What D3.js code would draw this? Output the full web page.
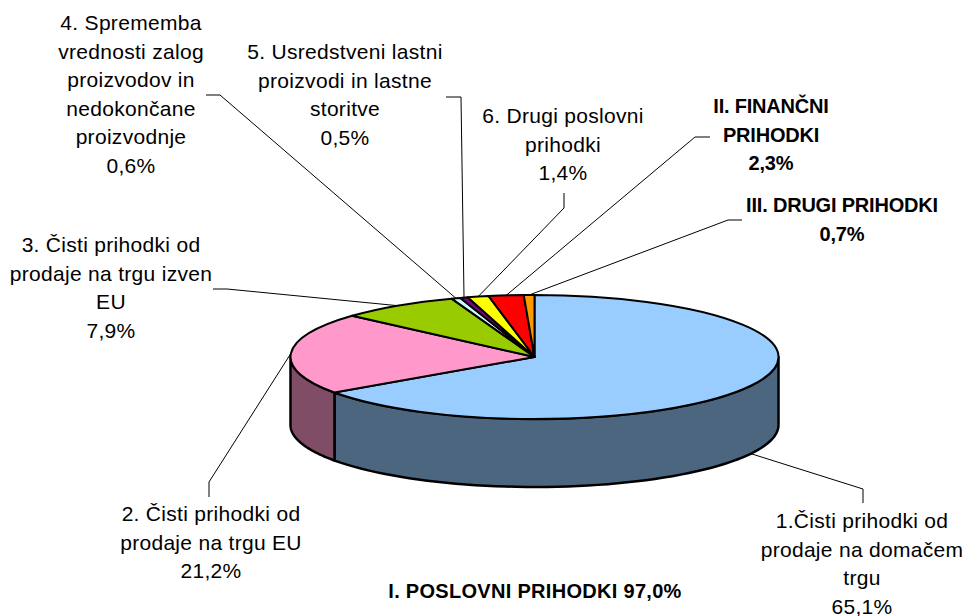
<!DOCTYPE html>
<html>
<head>
<meta charset="utf-8">
<script src="https://cdn.jsdelivr.net/npm/d3@7"></script>
<style>
  html, body { margin: 0; padding: 0; background: #fff; }
  svg { display: block; }
  text { font-family: "Liberation Sans", Arial, sans-serif; font-size: 21px; letter-spacing: 0.3px; fill: #000; text-anchor: middle; }
  text.bold { font-weight: bold; font-size: 20px; letter-spacing: -0.2px; }
  text.title { font-weight: bold; font-size: 20px; letter-spacing: 0.3px; }
</style>
</head>
<body>
<svg id="pie" width="967" height="616"></svg>
<script>
var categories = [
  "1.Čisti prihodki od|prodaje na domačem|trgu",
  "2. Čisti prihodki od|prodaje na trgu EU",
  "3. Čisti prihodki od|prodaje na trgu izven|EU",
  "4. Sprememba|vrednosti zalog|proizvodov in|nedokončane|proizvodnje",
  "5. Usredstveni lastni|proizvodi in lastne|storitve",
  "6. Drugi poslovni|prihodki",
  "II. FINANČNI|PRIHODKI",
  "III. DRUGI PRIHODKI"
];
var values = [65.1, 21.2, 7.9, 0.6, 0.5, 1.4, 2.3, 0.7];
var valueLabels = ["65,1%", "21,2%", "7,9%", "0,6%", "0,5%", "1,4%", "2,3%", "0,7%"];
var boldSlices = [false, false, false, false, false, false, true, true];
var topColors = ["#99ccff", "#ff99cc", "#99cc00", "#ccffff", "#800080", "#ffff00", "#ff0000", "#ff9900"];
var wallColors = ["#4d6680", "#804d66"];
var groupTitle = "I. POSLOVNI PRIHODKI 97,0%";

// label layout: text centre, first baseline, then the leader elbow and its stub end
var labelX = [862, 211, 111, 131, 345, 563, 771, 842];
var labelY = [528, 521, 252, 30, 59, 123, 113, 212];
var elbows = [[863, 489], [209, 482], [227, 289], [220, 95], [461, 97], [564, 208], [695, 137], [728, 220]];
var stubs = [[863, 503], [209, 497], [213, 289], [206, 95], [446, 97], [564, 193], [710, 137], [742, 220]];

var cx = 534.5, cy = 357, rx = 244, ry = 62, depth = 68, lineHeight = 28.5;

var svg = d3.select("svg#pie");

var pie = d3.pie().sort(null).value(d => d);
var slices = pie(values);

// angle 0 is 12 o'clock, going clockwise
function onEllipse(a) {
  return [cx + rx * Math.sin(a), cy - ry * Math.cos(a)];
}

// back-to-front: the wall is only seen between 3 and 9 o'clock
var wallArea = d3.area()
  .x(a => onEllipse(a)[0])
  .y0(a => onEllipse(a)[1])
  .y1(a => onEllipse(a)[1] + depth);

svg.append("g").selectAll("path")
  .data(slices.slice(0, 2))
  .enter().append("path")
  .attr("d", d => {
    var a0 = Math.max(d.startAngle, Math.PI / 2), a1 = Math.min(d.endAngle, 3 * Math.PI / 2);
    return wallArea(d3.range(0, 61).map(i => a0 + (a1 - a0) * i / 60));
  })
  .attr("fill", (d, i) => wallColors[i])
  .attr("stroke", "#000")
  .attr("stroke-width", 2.5)
  .attr("stroke-linejoin", "round");

// top face: plain d3.arc squashed into an ellipse
var arc = d3.arc().innerRadius(0).outerRadius(rx);
svg.append("g")
  .attr("transform", translate(cx, cy) + " scale(1," + ry / rx + ")")
  .selectAll("path")
  .data(slices)
  .enter().append("path")
  .attr("d", arc)
  .attr("fill", (d, i) => topColors[i])
  .attr("stroke", "#000")
  .attr("stroke-width", 2)
  .attr("stroke-linejoin", "round")
  .attr("vector-effect", "non-scaling-stroke");

// leader lines start at the middle of each slice's rim
var leader = d3.line();
svg.append("g").selectAll("path")
  .data(slices)
  .enter().append("path")
  .attr("d", (d, i) => {
    var p = onEllipse((d.startAngle + d.endAngle) / 2);
    if (i == 0) p = [p[0], p[1] + depth];
    return leader([p, elbows[i], stubs[i]]);
  })
  .attr("fill", "none")
  .attr("stroke", "#000")
  .attr("stroke-width", 1);

var labels = svg.append("g").selectAll("text")
  .data(categories)
  .enter().append("text")
  .attr("class", (d, i) => boldSlices[i] ? "bold" : null)
  .attr("x", (d, i) => labelX[i])
  .attr("y", (d, i) => labelY[i]);

labels.selectAll("tspan")
  .data((d, i) => d.split("|").concat(valueLabels[i]).map(t => ({t: t, x: labelX[i]})))
  .enter().append("tspan")
  .attr("x", d => d.x)
  .attr("dy", (d, i) => i == 0 ? 0 : lineHeight)
  .text(d => d.t);

svg.append("text")
  .attr("class", "title")
  .attr("x", 535)
  .attr("y", 598)
  .text(groupTitle);

function translate(x, y) {
  return 'translate(' + String(x) + ',' + String(y) + ')';
}
</script>
</body>
</html>
